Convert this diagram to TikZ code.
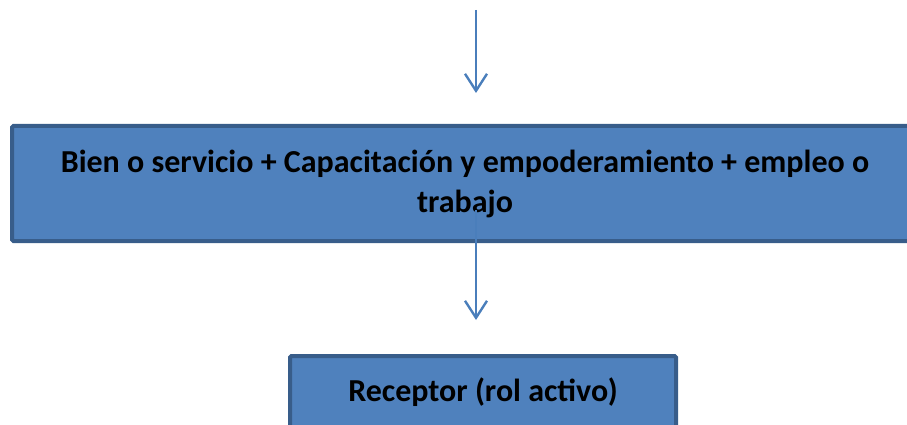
\documentclass[tikz,border=0pt]{standalone}
\usepackage{fontspec}
\setmainfont{Carlito}
\usepackage{xcolor}
\usepackage{tikz}
\usetikzlibrary{positioning,arrows.meta}
\definecolor{boxfill}{HTML}{4F81BD}
\definecolor{boxline}{HTML}{385D8A}
\definecolor{arrowblue}{HTML}{4A7EBB}
\tikzset{stage/.style={
    draw=boxline,
    fill=boxfill,
    line width=4pt,
    rounded corners=1.5pt,
    align=center,
    font=\fontsize{32}{40}\selectfont\bfseries,
}}
\tikzset{arrow/.style={
    -{Straight Barb[length=17pt,width=22pt]},
    line width=2.4pt,
    color=arrowblue,
}}

\begin{document}
\begin{tikzpicture}[x=1pt,y=-1pt]
    \clip (0,0) rectangle (907,425);
    \useasboundingbox (0,0) rectangle (907,425);

    \node[stage, minimum width=906pt, minimum height=115pt] (bien) at (465,183.5)
        {Bien o servicio + Capacitación y empoderamiento + empleo o\\trabajo};
    \node[stage, minimum width=386pt, minimum height=90pt, text depth=22pt,
          below=111pt of bien, xshift=18pt] (receptor) {Receptor (rol activo)};

    \coordinate (entrada) at (476,10);
    \coordinate (salida) at (476,210);
    \draw[arrow, shorten >=31pt] (entrada) -- (entrada |- bien.north);
    \draw[arrow, shorten >=34pt] (salida) -- (salida |- receptor.north);
\end{tikzpicture}
\end{document}
